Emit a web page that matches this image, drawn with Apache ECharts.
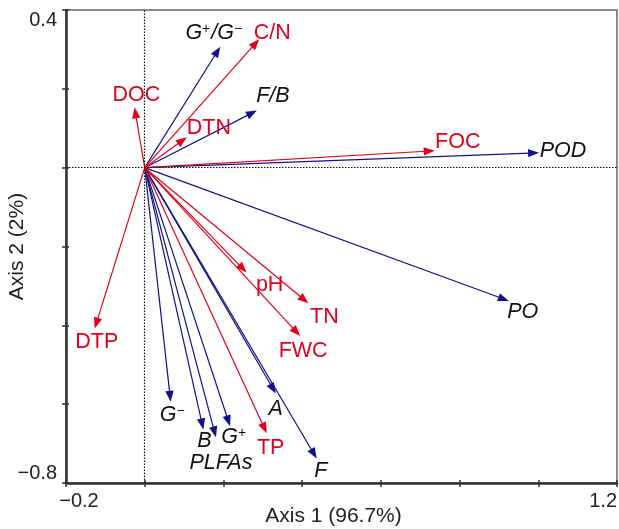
<!DOCTYPE html>
<html>
<head>
<meta charset="utf-8">
<script src="https://cdn.jsdelivr.net/npm/echarts@6/dist/echarts.min.js"></script>
<style>
html,body{margin:0;padding:0;background:#fff;}
#chart{width:619px;height:529px;}
</style>
</head>
<body>
<div id="chart"></div>
<script>
// Environmental variables (red arrows)
const envNames = ['C/N', 'DOC', 'DTN', 'FOC', 'DTP', 'pH', 'TN', 'FWC', 'TP'];
const envX = [0.291, -0.026, 0.107, 0.737, -0.127, 0.259, 0.416, 0.395, 0.310];
const envY = [0.326, 0.153, 0.077, 0.043, -0.408, -0.266, -0.344, -0.427, -0.674];

// Microbial / enzyme responses (blue arrows)
const spNames = ['G+/G-', 'F/B', 'POD', 'PO', 'G-', 'B', 'PLFAs', 'G+', 'A', 'F'];
const spX = [0.192, 0.285, 1.002, 0.925, 0.066, 0.149, 0.181, 0.217, 0.333, 0.437];
const spY = [0.307, 0.145, 0.038, -0.338, -0.594, -0.664, -0.684, -0.656, -0.573, -0.738];

// Axes
const xMin = -0.2, xMax = 1.2, yMin = -0.8, yMax = 0.4, step = 0.2;
const xTitle = 'Axis 1 (96.7%)';
const yTitle = 'Axis 2 (2%)';

// Label placement (pixel offsets from arrow tip) - styling only
const envOffsets = {
  'C/N': [13, -6], 'DOC': [2, -12], 'DTN': [22, -9], 'FOC': [23, -9], 'DTP': [2, 14],
  'pH': [23, 13], 'TN': [16, 14], 'FWC': [3, 15], 'TP': [4, 15]
};
const spOffsets = {
  'G+/G-': [-6, -14], 'F/B': [16, -14], 'POD': [24, -2], 'PO': [14, 11], 'G-': [2, 13],
  'B': [1, 12], 'PLFAs': [5, 26], 'G+': [4, 11], 'A': [0, 15], 'F': [4, 12]
};

const RED = '#e3001b';
const BLUE = '#12128a';
const FONT = '"Liberation Sans", Arial, Helvetica, sans-serif';
const LBL = 21.5;

function richText(name) {
  if (name === 'G+/G-') return '{i|G}{s|+}{i|/G}{s|\u2212}';
  if (name === 'G+') return '{i|G}{s|+}';
  if (name === 'G-') return '{i|G}{s|\u2212}';
  return '{i|' + name + '}';
}

function makeRender(names, offsets, color, italic) {
  return function (params, api) {
    const i = params.dataIndex;
    const o = api.coord([0, 0]);
    const p = api.coord([api.value(0), api.value(1)]);
    const dx = p[0] - o[0], dy = p[1] - o[1];
    const len = Math.hypot(dx, dy);
    const ux = dx / len, uy = dy / len;
    const hl = 11, hw = 4.2;
    const bx = p[0] - ux * hl, by = p[1] - uy * hl;
    const nx = -uy, ny = ux;
    const off = offsets[names[i]] || [0, 0];
    const children = [
      { type: 'line', shape: { x1: o[0], y1: o[1], x2: bx + ux * 2, y2: by + uy * 2 },
        style: { stroke: color, lineWidth: 1.2 } },
      { type: 'polygon', shape: { points: [[p[0], p[1]], [bx + nx * hw, by + ny * hw], [bx - nx * hw, by - ny * hw]] },
        style: { fill: color } }
    ];
    const tcol = italic ? '#111' : color;
    const fs = italic ? 'italic' : 'normal';
    children.push({
      type: 'text',
      style: {
        x: p[0] + off[0], y: p[1] + off[1],
        text: italic ? richText(names[i]) : names[i],
        fill: tcol, fontSize: LBL, fontFamily: FONT, fontStyle: fs,
        align: 'center', verticalAlign: 'middle',
        rich: {
          i: { fill: tcol, fontSize: LBL, fontFamily: FONT, fontStyle: fs },
          s: { fill: tcol, fontSize: 14, fontFamily: FONT, fontStyle: 'normal', verticalAlign: 'top', padding: [0, 1, 0, 0] }
        }
      }
    });
    return { type: 'group', children: children };
  };
}

const envData = envX.map((x, i) => [x, envY[i]]);
const spData = spX.map((x, i) => [x, spY[i]]);

function fmtLabel(v, lo, hi) {
  if (Math.abs(v - lo) < 1e-6 || Math.abs(v - hi) < 1e-6) {
    const s = Math.abs(v).toFixed(1);
    return v < 0 ? '\u2212' + s : s;
  }
  return '';
}

const chart = echarts.init(document.getElementById('chart'), null, { renderer: 'canvas' });
const axisCol = '#333';
chart.setOption({
  animation: false,
  backgroundColor: '#fff',
  grid: { left: 66, right: 2, top: 10, bottom: 46, show: true, borderColor: '#666', borderWidth: 1.5,
    containLabel: false, outerBoundsMode: 'none' },
  xAxis: [
    {
      type: 'value', min: xMin, max: xMax, interval: step, position: 'bottom',
      name: xTitle, nameLocation: 'middle', nameGap: 23, nameMoveOverlap: false,
      nameTextStyle: { fontSize: 21, color: '#222', fontFamily: FONT, padding: [0, 16, 0, 0] },
      axisLine: { show: true, onZero: false, lineStyle: { color: axisCol, width: 2.5 } },
      axisTick: { show: true, length: 4, lineStyle: { color: axisCol, width: 1.5 } },
      axisLabel: { show: true, margin: 8, fontSize: 20, color: '#222', fontFamily: FONT,
        formatter: v => fmtLabel(v, xMin, xMax), alignMaxLabel: 'right', padding: [0, 0, 0, 26] },
      splitLine: { show: false }
    },
    {
      type: 'value', min: xMin, max: xMax, interval: step, position: 'bottom', gridIndex: 0, offset: 0,
      axisLine: { show: false, onZero: false },
      axisTick: { show: true, inside: true, length: 3, lineStyle: { color: axisCol, width: 1.5 } },
      axisLabel: { show: false }, splitLine: { show: false }
    }
  ],
  yAxis: [
    {
      type: 'value', min: yMin, max: yMax, interval: step, position: 'left',
      name: yTitle, nameLocation: 'middle', nameGap: 38, nameMoveOverlap: false,
      nameTextStyle: { fontSize: 21, color: '#222', fontFamily: FONT },
      axisLine: { show: true, onZero: false, lineStyle: { color: axisCol, width: 2.5 } },
      axisTick: { show: true, length: 4, lineStyle: { color: axisCol, width: 1.5 } },
      axisLabel: { show: true, margin: 9, fontSize: 20, color: '#222', fontFamily: FONT,
        formatter: v => fmtLabel(v, yMin, yMax), verticalAlignMinLabel: 'bottom', verticalAlignMaxLabel: 'top' },
      splitLine: { show: false }
    },
    {
      type: 'value', min: yMin, max: yMax, interval: step, position: 'left', gridIndex: 0, offset: 0,
      axisLine: { show: false, onZero: false },
      axisTick: { show: true, inside: true, length: 3, lineStyle: { color: axisCol, width: 1.5 } },
      axisLabel: { show: false }, splitLine: { show: false }
    }
  ],
  series: [
    {
      type: 'line', data: [], xAxisIndex: 0, yAxisIndex: 0, silent: true,
      markLine: {
        silent: true, symbol: 'none', label: { show: false },
        lineStyle: { color: '#111', width: 1.2, type: [1.5, 1.5] },
        data: [{ xAxis: 0 }, { yAxis: 0 }]
      }
    },
    { type: 'custom', name: 'species', xAxisIndex: 0, yAxisIndex: 0, data: spData,
      encode: { x: 0, y: 1 }, renderItem: makeRender(spNames, spOffsets, BLUE, true), clip: false },
    { type: 'custom', name: 'env', xAxisIndex: 0, yAxisIndex: 0, data: envData,
      encode: { x: 0, y: 1 }, renderItem: makeRender(envNames, envOffsets, RED, false), clip: false }
  ]
});
</script>
</body>
</html>
